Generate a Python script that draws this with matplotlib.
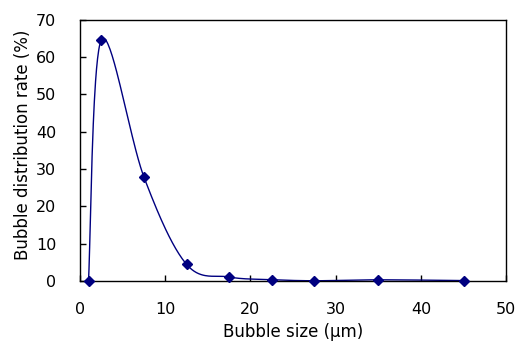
import numpy as np
import matplotlib
matplotlib.use("Agg")
import matplotlib.pyplot as plt

# bubble size (um) vs distribution rate (%)
taille = [1, 2.5, 7.5, 12.5, 17.5, 22.5, 27.5, 35, 45]
taux = [0, 64.6, 27.9, 4.5, 1.1, 0.4, 0.1, 0.35, 0.15]

fig = plt.figure(figsize=(5.16, 3.42), dpi=100)
ax = fig.add_axes([0.155, 0.178, 0.826, 0.764])
ax.set_xlim(0, 50)
ax.set_ylim(0, 70)

# Excel-like smoothing (cubic bezier, tension 1/6) in screen space
def lisser(xs, ys, n=40):
    pts = ax.transData.transform(np.column_stack([xs, ys]))
    out = [pts[0]]
    for i in range(len(pts) - 1):
        p0 = pts[i - 1] if i > 0 else pts[i]
        p1, p2 = pts[i], pts[i + 1]
        p3 = pts[i + 2] if i + 2 < len(pts) else pts[i + 1]
        c1 = p1 + (p2 - p0) / 6
        c2 = p2 - (p3 - p1) / 6
        t = np.linspace(0, 1, n)[1:, None]
        seg = (1 - t) ** 3 * p1 + 3 * (1 - t) ** 2 * t * c1 + 3 * (1 - t) * t ** 2 * c2 + t ** 3 * p2
        out.extend(seg)
    out = ax.transData.inverted().transform(np.array(out))
    return out[:, 0], out[:, 1]

sx, sy = lisser(taille, taux)
ax.plot(sx, sy, color="#000080", lw=1.0, clip_on=False)
ax.plot(taille, taux, "D", color="#000080", ms=5, clip_on=False, zorder=3)

ax.set_xticks(range(0, 51, 10))
ax.set_yticks(range(0, 71, 10))
ax.tick_params(direction="in", length=4, labelsize=11.5, width=1)
ax.tick_params(axis="x", pad=15)
ax.tick_params(axis="y", pad=17)
for s in ax.spines.values():
    s.set_linewidth(1)
ax.set_xlabel("Bubble size (\u03bcm)", fontsize=12)
ax.set_ylabel("Bubble distribution rate (%)", fontsize=12)
ax.xaxis.set_label_coords(0.5, -0.161)
ax.yaxis.set_label_coords(-0.113, 0.52)

plt.savefig("out.png", dpi=100)
